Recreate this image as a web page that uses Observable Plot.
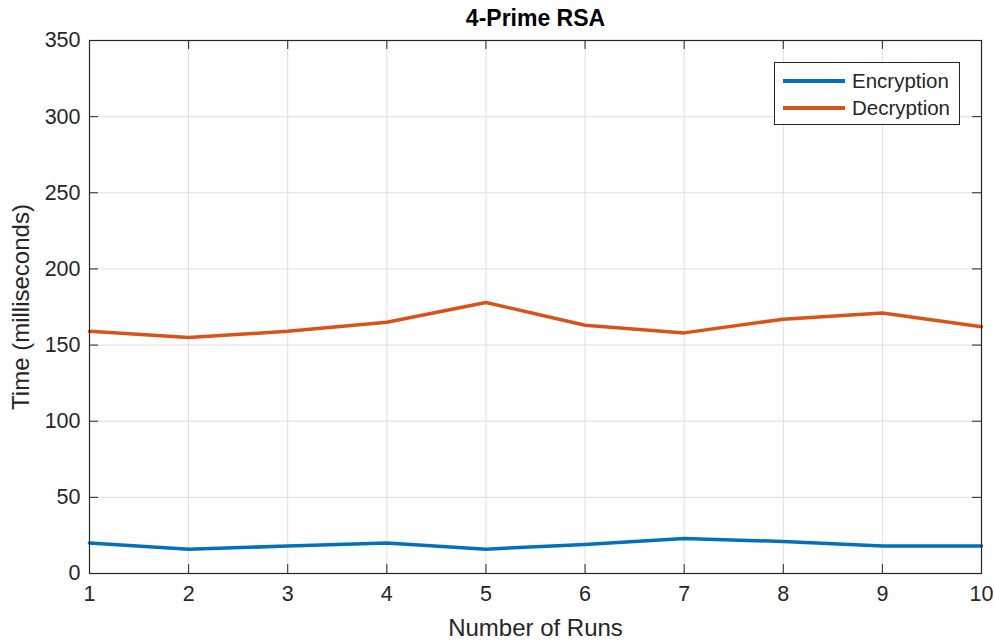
<!DOCTYPE html>
<html>
<head>
<meta charset="utf-8">
<script src="https://cdn.jsdelivr.net/npm/d3@7"></script>
<script src="https://cdn.jsdelivr.net/npm/@observablehq/plot@0.6"></script>
<style>
  html, body { margin: 0; padding: 0; background: #fff; }
  #wrap { position: relative; width: 995px; height: 642px; font-family: "Liberation Sans", Arial, Helvetica, sans-serif; }
  #legend { position: absolute; left: 774px; top: 62px; width: 186px; height: 63px; box-sizing: border-box;
            border: 1px solid #262626; background: #fff; font-size: 20.5px; color: #262626; }
  .row { position: absolute; left: 8px; height: 24px; display: flex; align-items: center; }
  .sw { width: 62px; height: 4px; margin-right: 7px; }
</style>
</head>
<body>
<div id="wrap"></div>
<script>
const runs = [1, 2, 3, 4, 5, 6, 7, 8, 9, 10];
const encryption = [20, 16, 18, 20, 16, 19, 23, 21, 18, 18];
const decryption = [159, 155, 159, 165, 178, 163, 158, 167, 171, 162];
const seriesNames = ["Encryption", "Decryption"];
const seriesColors = ["#0072BD", "#D95319"];
const xTicks = [1, 2, 3, 4, 5, 6, 7, 8, 9, 10];
const yTicks = [0, 50, 100, 150, 200, 250, 300, 350];
const title = "4-Prime RSA";
const xLabel = "Number of Runs";
const yLabel = "Time (milliseconds)";

const W = 995, H = 642;
const mL = 89, mR = 14, mT = 40, mB = 69;
const pw = W - mL - mR, ph = H - mT - mB;
const tk = 9;

const data = runs.flatMap((r, i) => [
  {run: r, value: encryption[i], series: seriesNames[0]},
  {run: r, value: decryption[i], series: seriesNames[1]}
]);

const ink = "#262626";
const chart = Plot.plot({
  width: W, height: H,
  marginLeft: mL, marginRight: mR, marginTop: mT, marginBottom: mB,
  style: {fontFamily: '"Liberation Sans", Arial, Helvetica, sans-serif', color: ink, background: "#fff"},
  x: {domain: [1, 10]},
  y: {domain: [0, 350]},
  color: {domain: seriesNames, range: seriesColors},
  marks: [
    Plot.gridX(xTicks, {stroke: "#dedede", strokeOpacity: 1}),
    Plot.gridY(yTicks, {stroke: "#dedede", strokeOpacity: 1}),
    Plot.ruleX(xTicks, {x: d => d, insetTop: ph - tk, stroke: ink}),
    Plot.ruleX(xTicks, {x: d => d, insetBottom: ph - tk, stroke: ink}),
    Plot.ruleY(yTicks, {y: d => d, insetRight: pw - tk, stroke: ink}),
    Plot.ruleY(yTicks, {y: d => d, insetLeft: pw - tk, stroke: ink}),
    Plot.axisX(xTicks, {tickSize: 0, tickPadding: 12, fontSize: 21.5, fill: ink, label: null}),
    Plot.axisY(yTicks, {tickSize: 0, tickPadding: 9, fontSize: 21.5, fill: ink, label: null}),
    Plot.lineY(data, {x: "run", y: "value", stroke: "series", strokeWidth: 3.5, z: "series"}),
    Plot.frame({stroke: ink, strokeWidth: 1.2}),
    Plot.text([title], {frameAnchor: "top", lineAnchor: "middle", textAnchor: "middle", dy: -22, fontSize: 23, fontWeight: "bold", fill: "#000"}),
    Plot.text([xLabel], {frameAnchor: "bottom", lineAnchor: "middle", textAnchor: "middle", dy: 55, fontSize: 24, fill: ink}),
    Plot.text([yLabel], {frameAnchor: "left", lineAnchor: "middle", textAnchor: "middle", dx: -68, rotate: -90, fontSize: 24, fill: ink})
  ]
});

const wrap = document.getElementById("wrap");
wrap.appendChild(chart);

const legend = document.createElement("div");
legend.id = "legend";
seriesNames.forEach((name, i) => {
  const row = document.createElement("div");
  row.className = "row";
  row.style.top = (6 + i * 27) + "px";
  const sw = document.createElement("div");
  sw.className = "sw";
  sw.style.background = seriesColors[i];
  const lab = document.createElement("span");
  lab.textContent = name;
  row.appendChild(sw);
  row.appendChild(lab);
  legend.appendChild(row);
});
wrap.appendChild(legend);
</script>
</body>
</html>
